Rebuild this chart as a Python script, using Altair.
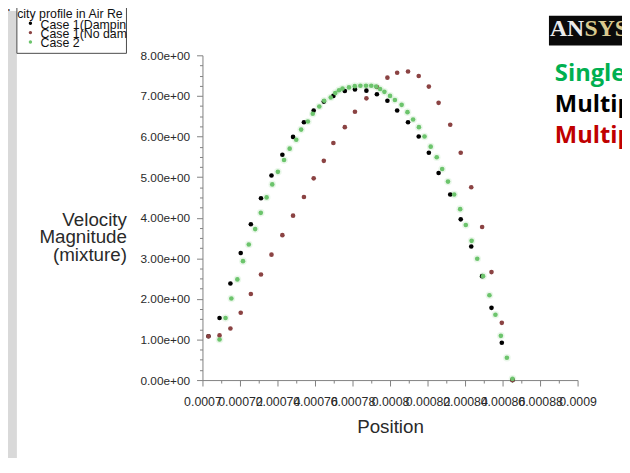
import altair as alt
import pandas as pd

FONT = "Liberation Sans"

# ---------------- data ----------------
series_names = ["Case 1(Damping)", "Case 1(No damping)", "Case 2"]
series_colors = ["#000000", "#8b4343", "#6cc46c"]

case1_position = [0.0007032, 0.0007091, 0.0007149, 0.0007204, 0.0007258, 0.0007312,
                  0.0007368, 0.0007426, 0.0007483, 0.0007541, 0.0007593, 0.0007647,
                  0.0007698, 0.0007759, 0.0007813, 0.0007874, 0.0007930, 0.0007986,
                  0.0008038, 0.0008096, 0.0008153, 0.0008207, 0.0008259, 0.0008321,
                  0.0008377, 0.0008433, 0.0008491, 0.0008541, 0.0008596, 0.0008653]
case1_damping_velocity = [1.08, 1.53, 2.38, 3.13, 3.84, 4.48, 5.04, 5.55, 5.99, 6.35,
                          6.64, 6.86, 7.00, 7.12, 7.16, 7.13, 7.04, 6.88, 6.64, 6.35,
                          6.00, 5.60, 5.10, 4.57, 3.96, 3.29, 2.56, 1.78, 0.92, 0.00]
case1_nodamping_velocity = [1.08, 1.10, 1.27, 1.66, 2.12, 2.60, 3.09, 3.57, 4.05, 4.51,
                            4.97, 5.40, 5.84, 6.23, 6.61, 6.94, 7.22, 7.45, 7.57, 7.60,
                            7.49, 7.23, 6.83, 6.29, 5.60, 4.75, 3.77, 2.66, 1.41, 0.00]

case2_position = [0.0007091, 0.0007123, 0.0007154, 0.0007186, 0.0007216, 0.0007247,
                  0.0007281, 0.0007311, 0.0007342, 0.0007372, 0.0007402, 0.0007435,
                  0.0007465, 0.0007500, 0.0007526, 0.0007562, 0.0007588, 0.0007623,
                  0.0007649, 0.0007684, 0.0007708, 0.0007728, 0.0007747, 0.0007781,
                  0.0007812, 0.0007842, 0.0007872, 0.0007900, 0.0007926, 0.0007947,
                  0.0007970, 0.0008000, 0.0008026, 0.0008062, 0.0008093, 0.0008123,
                  0.0008154, 0.0008184, 0.0008217, 0.0008249, 0.0008278, 0.0008309,
                  0.0008342, 0.0008374, 0.0008404, 0.0008435, 0.0008465, 0.0008496,
                  0.0008530, 0.0008562, 0.0008591, 0.0008623, 0.0008653]
case2_velocity = [1.00, 1.53, 2.01, 2.48, 2.93, 3.34, 3.72, 4.12, 4.50, 4.82,
                  5.13, 5.42, 5.70, 5.92, 6.17, 6.37, 6.56, 6.74, 6.88, 6.96,
                  7.07, 7.14, 7.18, 7.21, 7.24, 7.25, 7.25, 7.25, 7.23, 7.17,
                  7.10, 7.00, 6.90, 6.78, 6.60, 6.42, 6.23, 6.00, 5.75, 5.49,
                  5.20, 4.89, 4.57, 4.21, 3.82, 3.43, 2.99, 2.56, 2.09, 1.61,
                  1.09, 0.55, 0.03]

x_major_ticks = [0.0007, 0.00072, 0.00074, 0.00076, 0.00078, 0.0008,
                 0.00082, 0.00084, 0.00086, 0.00088, 0.0009]
x_tick_labels = ["0.0007", "0.00072", "0.00074", "0.00076", "0.00078", "0.0008",
                 "0.00082", "0.00084", "0.00086", "0.00088", "0.0009"]
y_major_ticks = [0, 1, 2, 3, 4, 5, 6, 7, 8]
y_tick_labels = ["0.00e+00", "1.00e+00", "2.00e+00", "3.00e+00", "4.00e+00",
                 "5.00e+00", "6.00e+00", "7.00e+00", "8.00e+00"]

legend_title = "Velocity profile in Air Region"
x_title = "Position"
y_title = ["Velocity", "Magnitude", "(mixture)"]
side_texts = ["Single phase", "Multiphase", "Multiphase"]
side_colors = ["#00b050", "#000000", "#c00000"]

# ---------------- table ----------------
rows = []
for p, v in zip(case1_position, case1_damping_velocity):
    rows.append({"position": p, "velocity": v, "series": series_names[0], "ord": 0})
for p, v in zip(case1_position, case1_nodamping_velocity):
    rows.append({"position": p, "velocity": v, "series": series_names[1], "ord": 1})
for p, v in zip(case2_position, case2_velocity):
    rows.append({"position": p, "velocity": v, "series": series_names[2], "ord": 2})
df = pd.DataFrame(rows)

x_minor = [(a + b) / 2 for a, b in zip(x_major_ticks[:-1], x_major_ticks[1:])]
x_tick_values = sorted(x_major_ticks + x_minor)
y_tick_values = [m + q / 4 for m in y_major_ticks[:-1] for q in range(4)] + [y_major_ticks[-1]]

x_major_test = "round((datum.value - 0.0007) / 0.00001) % 2 == 0"
x_label_expr = (f"{x_major_test} ? {x_tick_labels}[round((datum.value - 0.0007) / 0.00002)] : ''")
y_major_test = "round(datum.value * 4) % 4 == 0"
y_label_expr = f"{y_major_test} ? {y_tick_labels}[round(datum.value)] : ''"

AX_COL = "#808080"
LAB_COL = "#2a2a2a"

x_axis = alt.Axis(
    values=x_tick_values, labelExpr=x_label_expr, labelOverlap=False,
    labelFlush=False, labelBound=False, labelFont=FONT, labelFontSize=12.5,
    labelColor=LAB_COL, labelPadding=10, domainColor=AX_COL, tickColor=AX_COL,
    tickSize={"condition": {"test": x_major_test, "value": 6}, "value": 3},
    grid=False, title=x_title, titleFont=FONT, titleFontSize=19,
    titleFontWeight="normal", titleColor=LAB_COL, titleY=47, titleBaseline="middle",
)
y_axis = alt.Axis(
    values=y_tick_values, labelExpr=y_label_expr, labelOverlap=False,
    labelFlush=False, labelBound=False, labelFont=FONT, labelFontSize=12,
    labelColor=LAB_COL, labelPadding=7, domainColor=AX_COL, tickColor=AX_COL,
    tickSize={"condition": {"test": y_major_test, "value": 6}, "value": 3},
    grid=False, title=y_title, titleFont=FONT, titleFontSize=19,
    titleFontWeight="normal", titleColor=LAB_COL, titleAngle=0, titleAlign="right",
    titleX=-77, titleY=166, titleBaseline="middle", titleLineHeight=17.7,
)

xs = alt.Scale(domain=[0.0007, 0.0009], nice=False, zero=False)
ys = alt.Scale(domain=[0, 8], nice=False, zero=False)
cs = alt.Scale(domain=series_names, range=series_colors)

halo = alt.Chart(df).transform_filter(alt.datum.ord == 2).mark_circle(size=60, opacity=0.14).encode(
    x=alt.X("position:Q", scale=xs, axis=x_axis),
    y=alt.Y("velocity:Q", scale=ys, axis=y_axis),
    color=alt.Color("series:N", scale=cs, legend=None),
    order=alt.Order("ord:Q"),
)
points = alt.Chart(df).mark_circle(size=22, opacity=1).encode(
    x=alt.X("position:Q", scale=xs, axis=x_axis),
    y=alt.Y("velocity:Q", scale=ys, axis=y_axis),
    color=alt.Color("series:N", scale=cs, legend=None),
    order=alt.Order("ord:Q"),
)


def one(values=None):
    return alt.Chart(alt.Data(values=[values or {"k": 0}]))


def text(s, x, y, **kw):
    return one({"t": s}).mark_text(**kw).encode(x=alt.value(x), y=alt.value(y), text="t:N")


def rect(x1, x2, y1, y2, **kw):
    return one().mark_rect(**kw).encode(x=alt.value(x1), x2=alt.value(x2),
                                        y=alt.value(y1), y2=alt.value(y2))


CUT = "\u200b"
layers = [halo, points]

# legend block (top-left)
layers.append(text(legend_title, -212, -42, align="left", baseline="middle", font=FONT,
                   fontSize=12.5, color="#111111", limit=134, ellipsis=CUT))
layers.append(rect(-197, -188, -45, 420, color="#d9d9d9"))
layers.append(rect(-188, -77, -49, -2, fillOpacity=0, stroke="#4a4a4a", strokeWidth=1))
for i, (name, col) in enumerate(zip(series_names, series_colors)):
    ty = [-31, -21.5, -12][i]
    layers.append(one().mark_circle(size=12, color=col, opacity=1).encode(
        x=alt.value(-174.3), y=alt.value(ty - 1.5)))
    layers.append(text(name, -164, ty, align="left", baseline="middle", font=FONT,
                       fontSize=12.5, color="#111111", limit=89, ellipsis=CUT))

# logo
layers.append(rect(351, 430, -40, -10, color="#0a0a0a"))
layers.append(text("AN", 352, -20, align="left", baseline="alphabetic",
                   font="Liberation Serif", fontSize=24, fontWeight="bold", color="#ececec"))
layers.append(text("SYS", 387, -20, align="left", baseline="alphabetic",
                   font="Liberation Serif", fontSize=24, fontWeight="bold", color="#d9c98e"))

# side labels
for s, col, by in zip(side_texts, side_colors, [26.5, 57.5, 88.5]):
    layers.append(text(s, 357, by, align="left", baseline="alphabetic", font="Open Sans",
                       fontSize=24, fontWeight="bold", color=col))

chart = alt.layer(*layers).properties(
    width=380, height=329,
    autosize=alt.AutoSizeParams(type="none"),
    padding={"left": 197, "top": 45, "right": 45, "bottom": 76},
    background="white",
).configure_view(stroke=None)

chart.save("out.html", embed_options={"renderer": "svg", "actions": False})
